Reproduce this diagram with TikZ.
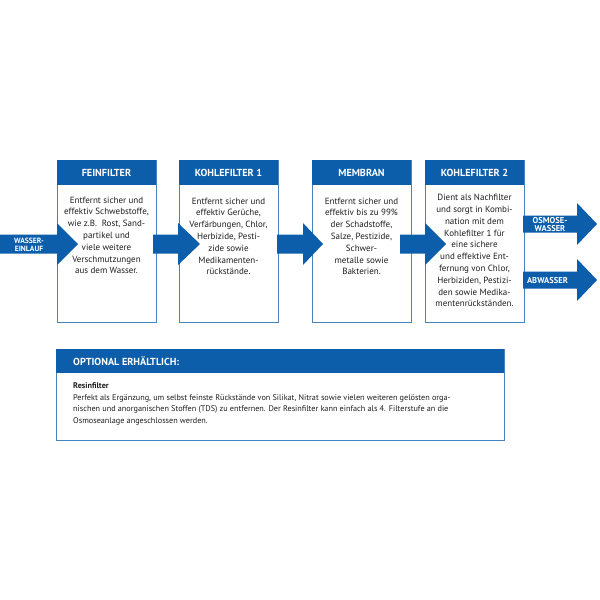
\documentclass[tikz,border=0pt]{standalone}
\usepackage{fontspec}
\setmainfont{PT Sans}
\definecolor{hblue}{RGB}{12,93,170}
\definecolor{bblue}{RGB}{72,132,192}
\definecolor{txt}{RGB}{30,30,30}
\newcommand\blkarrow[4]{% x0, xbase, xtip, ycenter
  \fill[hblue] (#1,#4-9.5) -- (#2,#4-9.5) -- (#2,#4-21) -- (#3,#4) -- (#2,#4+21) -- (#2,#4+9.5) -- (#1,#4+9.5) -- cycle;}
\newcommand\outarrow[4]{%
  \fill[hblue] (#1,#4-8.5) -- (#2,#4-8.5) -- (#2,#4-21) -- (#3,#4) -- (#2,#4+21) -- (#2,#4+8.5) -- (#1,#4+8.5) -- cycle;}
\begin{document}
\begin{tikzpicture}[x=1pt,y=-1pt,
  stagebox/.style={draw=bblue, line width=0.9pt, fill=white},
  headbar/.style={fill=hblue},
  headtext/.style={text=white, font=\bfseries\fontsize{10.2}{11}\selectfont},
  bodytext/.style={text=txt, align=center, anchor=north, inner sep=0pt, font=\fontsize{9.0}{11.8}\selectfont},
  arrtext/.style={text=white, align=center, inner sep=0pt, font=\bfseries\fontsize{7.6}{8}\selectfont},
  outtext/.style={text=white, align=center, inner sep=0pt, font=\bfseries\fontsize{8.5}{8}\selectfont},
  opttext/.style={text=txt, align=left, anchor=north west, inner sep=0pt, font=\fontsize{8.2}{11.7}\selectfont}]
\useasboundingbox (0,0) rectangle (600,600);
\fill[white] (0,0) rectangle (600,600);
% stage boxes
\draw[stagebox] (57,160) rectangle (156,322);
\draw[stagebox] (179,160) rectangle (278,322);
\draw[stagebox] (312,160) rectangle (411,322);
\draw[stagebox] (425,160) rectangle (524,322);
\fill[headbar] (57,160) rectangle (156,185);
\fill[headbar] (179,160) rectangle (278,185);
\fill[headbar] (312,160) rectangle (411,185);
\fill[headbar] (425,160) rectangle (524,185);
% arrows
\blkarrow{0}{57}{78}{244}
\blkarrow{153}{178}{200}{244}
\blkarrow{277}{303}{323}{244}
\blkarrow{400}{425}{446}{244}
\outarrow{523}{577}{597}{224}
\outarrow{523}{577}{597}{280}
% optional box
\draw[stagebox] (56,349) rectangle (504,440);
\fill[headbar] (56,349) rectangle (504,373);
% header texts
\node[headtext] (h1) at (106.5,173) {FEINFILTER};
\node[headtext] (h2) at (228.5,173) {KOHLEFILTER 1};
\node[headtext] (h3) at (361.5,173) {MEMBRAN};
\node[headtext] (h4) at (474.5,173) {KOHLEFILTER 2};
\node[headtext, anchor=west, inner sep=0pt] (h5) at (73,361.5) {OPTIONAL ERHÄLTLICH:};
% arrow labels
\node[arrtext] (a0) at (29,245) {WASSER-\\EINLAUF};
\node[outtext] (a5) at (550,224.5) {OSMOSE-\\WASSER};
\node[outtext] (a6) at (547.5,280.5) {ABWASSER};
% body texts
\node[bodytext] (t1) at (106.5,196.5) {Entfernt sicher und\\effektiv Schwebstoffe,\\wie z.B.\ \ Rost, Sand-\\partikel und\\viele weitere\\Verschmutzungen\\aus dem Wasser.};
\node[bodytext] (t2) at (228.5,197.5) {Entfernt sicher und\\effektiv Gerüche,\\Verfärbungen, Chlor,\\Herbizide, Pesti-\\zide sowie\\Medikamenten-\\rückstände.};
\node[bodytext] (t3) at (361.5,197.5) {Entfernt sicher und\\effektiv bis zu 99\%\\der Schadstoffe,\\Salze, Pestizide,\\Schwer-\\metalle sowie\\Bakterien.};
\node[bodytext] (t4) at (474.5,194) {Dient als Nachfilter\\und sorgt in Kombi-\\nation mit dem\\Kohlefilter 1 für\\eine sichere\\und effektive Ent-\\fernung von Chlor,\\Herbiziden, Pestizi-\\den sowie Medika-\\mentenrückständen.};
\node[opttext] (o1) at (73,382.5) {\textbf{Resinfilter}\\Perfekt als Ergänzung, um selbst feinste Rückstände von Silikat, Nitrat sowie vielen weiteren gelösten orga-\\nischen und anorganischen Stoffen (TDS) zu entfernen. Der Resinfilter kann einfach als 4. Filterstufe an die\\Osmoseanlage angeschlossen werden.};
\end{tikzpicture}
\end{document}
